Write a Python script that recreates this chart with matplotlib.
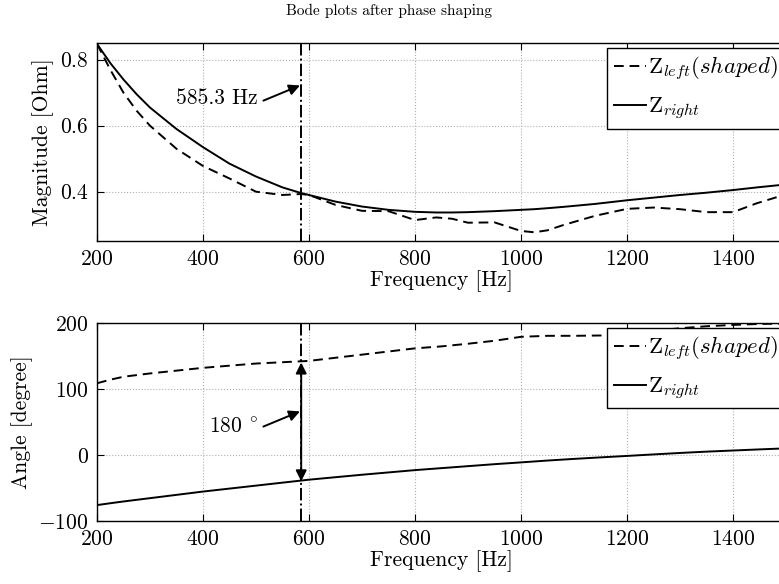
import matplotlib
matplotlib.use("Agg")
import matplotlib.pyplot as plt

# Computer Modern look, like the MATLAB/LaTeX export
plt.rcParams['font.family'] = 'serif'
plt.rcParams['font.serif'] = ['cmr10']
plt.rcParams['mathtext.fontset'] = 'cm'
plt.rcParams['axes.formatter.use_mathtext'] = True
plt.rcParams['axes.unicode_minus'] = True

# magnitude data [Ohm]
freq_mag = [200, 225, 250, 275, 300, 350, 400, 450, 500, 550, 585, 600, 650, 700,
            750, 800, 840, 870, 900, 950, 1000, 1025, 1050, 1080, 1140, 1200,
            1250, 1300, 1350, 1400, 1445, 1500]
mag_left = [0.848, 0.77, 0.70, 0.645, 0.60, 0.53, 0.478, 0.44, 0.40, 0.39, 0.393,
            0.39, 0.36, 0.342, 0.341, 0.314, 0.322, 0.318, 0.306, 0.307, 0.281,
            0.277, 0.283, 0.299, 0.327, 0.348, 0.352, 0.347, 0.338, 0.338, 0.365,
            0.392]
mag_right = [0.848, 0.79, 0.74, 0.695, 0.655, 0.59, 0.535, 0.485, 0.446, 0.413,
             0.396, 0.39, 0.37, 0.355, 0.345, 0.339, 0.337, 0.337, 0.338, 0.341,
             0.345, 0.347, 0.35, 0.354, 0.363, 0.374, 0.382, 0.39, 0.397, 0.405,
             0.413, 0.422]

# phase data [degree]
freq_ang = [200, 225, 250, 300, 400, 500, 600, 700, 800, 850, 900, 950, 1000,
            1050, 1100, 1150, 1200, 1250, 1300, 1350, 1400, 1450, 1500]
ang_left = [108.6, 114, 118.5, 123.5, 132, 138.5, 142.5, 152, 161.5, 164.5, 168.5,
            173, 179, 180.5, 180.5, 181, 184, 188, 192, 195, 197, 198.5, 199]
ang_right = [-76, -73.2, -70.5, -65.5, -55.5, -46.5, -37.5, -30, -23, -20, -17,
             -14, -11.3, -8.5, -6, -3.7, -1.5, 0.8, 3, 5, 6.7, 8.4, 10]

f_mark = 585.3
xticks = [200, 400, 600, 800, 1000, 1200, 1400]

label_left = r'Z$_{left}(shaped)$'
label_right = r'Z$_{right}$'

fig = plt.figure(figsize=(7.79, 5.84), dpi=100)
ax1 = fig.add_axes([0.1245, 0.587, 0.8845, 0.339])
ax2 = fig.add_axes([0.1245, 0.108, 0.8845, 0.339])


def style_axes(ax):
    ax.set_xlim(200, 1500)
    ax.set_xticks(xticks)
    ax.grid(True, linestyle=':', color='#b0b0b0', linewidth=0.8)
    ax.tick_params(direction='in', top=True, right=True, length=5,
                   labelsize=15.5, pad=6, width=0.8)
    for s in ax.spines.values():
        s.set_linewidth(1.0)
    ax.set_xlabel('Frequency [Hz]', fontsize=15.5, labelpad=1)


def add_legend(ax):
    ax.legend(loc='upper left', bbox_to_anchor=(0.74, 0.975), fontsize=16.5,
              frameon=True, fancybox=False, edgecolor='k', framealpha=1,
              handlelength=1.4, handletextpad=0.1, labelspacing=0.55,
              borderpad=0.3, borderaxespad=0)


# top: magnitude
ax1.plot(freq_mag, mag_left, color='k', lw=1.4, linestyle='--', dashes=(5, 3),
         label=label_left)
ax1.plot(freq_mag, mag_right, color='k', lw=1.4, label=label_right)
ax1.axvline(f_mark, color='k', lw=1.4, linestyle='-.')
ax1.set_ylim(0.25, 0.85)
ax1.set_yticks([0.4, 0.6, 0.8])
style_axes(ax1)
ax1.set_ylabel('Magnitude [Ohm]', fontsize=15.5, labelpad=4)
ax1.text(504, 0.682, '585.3 Hz', fontsize=15.5, ha='right', va='center')
ax1.annotate('', xy=(583, 0.722), xytext=(514, 0.676),
             arrowprops=dict(arrowstyle='-|>', color='k', lw=1.4,
                             mutation_scale=16, shrinkA=0, shrinkB=0))
add_legend(ax1)

# bottom: phase
ax2.plot(freq_ang, ang_left, color='k', lw=1.4, linestyle='--', dashes=(5, 3),
         label=label_left)
ax2.plot(freq_ang, ang_right, color='k', lw=1.4, label=label_right)
ax2.axvline(f_mark, color='k', lw=1.4, linestyle='-.')
ax2.set_ylim(-100, 200)
ax2.set_yticks([-100, 0, 100, 200])
style_axes(ax2)
ax2.set_ylabel('Angle [degree]', fontsize=15.5, labelpad=4)
ax2.annotate('', xy=(f_mark, 140), xytext=(f_mark, -40),
             arrowprops=dict(arrowstyle='<|-|>', color='k', lw=1.4,
                             mutation_scale=16, shrinkA=0, shrinkB=0))
ax2.text(504, 42, r'180 $^{\circ}$', fontsize=15.5, ha='right', va='center')
ax2.annotate('', xy=(583, 66), xytext=(514, 43),
             arrowprops=dict(arrowstyle='-|>', color='k', lw=1.4,
                             mutation_scale=16, shrinkA=0, shrinkB=0))
add_legend(ax2)

fig.text(0.5, 0.982, 'Bode plots after phase shaping', fontsize=11,
         ha='center', va='center')

fig.savefig('out.png', dpi=100)
